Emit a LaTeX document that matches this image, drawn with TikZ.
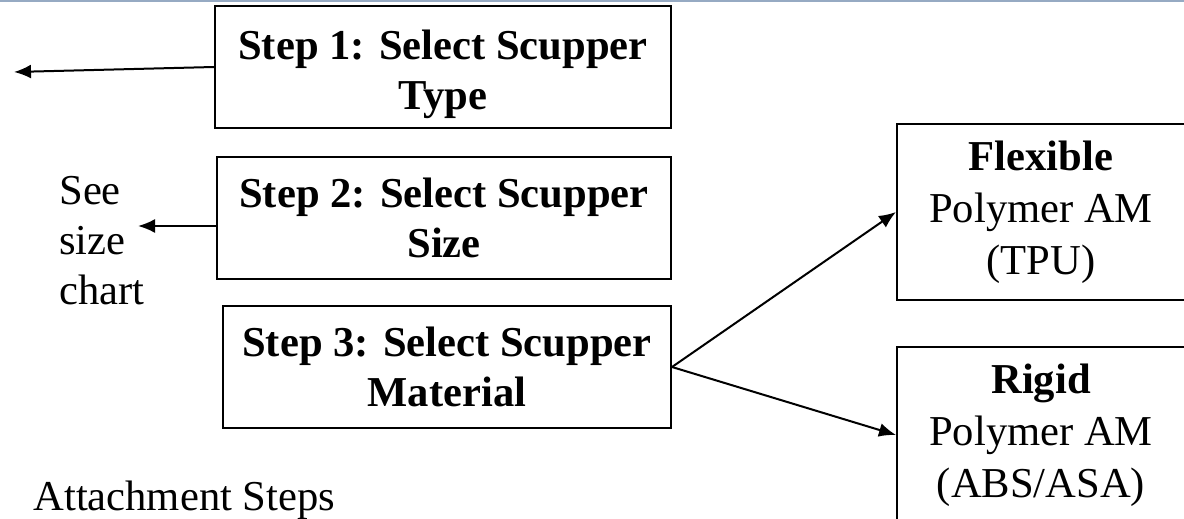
\documentclass[tikz,border=0pt]{standalone}
\usepackage{fontspec}
\setmainfont{Liberation Serif}
\usetikzlibrary{arrows.meta}
\definecolor{topbar}{RGB}{150,170,195}
\tikzset{>={Latex[length=8.5pt,width=7pt]}}
\tikzset{stepbox/.style={draw, line width=1pt, minimum height=61pt, inner sep=0pt, align=center, font=\fontsize{21.3}{25}\selectfont\bfseries}}
\tikzset{matbox/.style={draw, line width=1pt, minimum width=144pt, minimum height=88pt, inner sep=0pt, align=center, font=\fontsize{21.3}{26}\selectfont}}
\tikzset{plain/.style={inner sep=0pt, align=left, font=\fontsize{21.3}{25}\selectfont}}

\begin{document}
\begin{tikzpicture}[x=0.5pt, y=-0.5pt]
\clip (0,0) rectangle (1184,519);
\fill[topbar] (0,0) rectangle (1184,2);

% steps
\node[stepbox, minimum width=228pt] (step1) at (443,67) {\rule{0pt}{22pt}Step 1: Select Scupper\\Type};
\node[stepbox, minimum width=227pt] (step2) at (444,218) {Step 2: Select Scupper\\Size};
\node[stepbox, minimum width=224pt] (step3) at (447,367) {Step 3: Select Scupper\\Material};

% materials
\node[matbox] (flex) at (1041,212) {\textbf{Flexible}\\Polymer AM\\(TPU)};
\node[matbox] (rigid) at (1041,435) {\textbf{Rigid}\\Polymer AM\\(ABS/ASA)};

\node[plain, anchor=north west] (see) at (59,176) {See\\size\\chart};
\node[plain, anchor=base west] (attach) at (33,510) {Attachment Steps};

\coordinate (s1end) at (14,72);
\coordinate (s2end) at (138,226);

\path[->, line width=1pt]
(step1.west) edge (s1end)
(step2.west |- s2end) edge (s2end)
(step3.east) edge (flex.west)
(step3.east) edge (rigid.west)
;
\end{tikzpicture}
\end{document}
